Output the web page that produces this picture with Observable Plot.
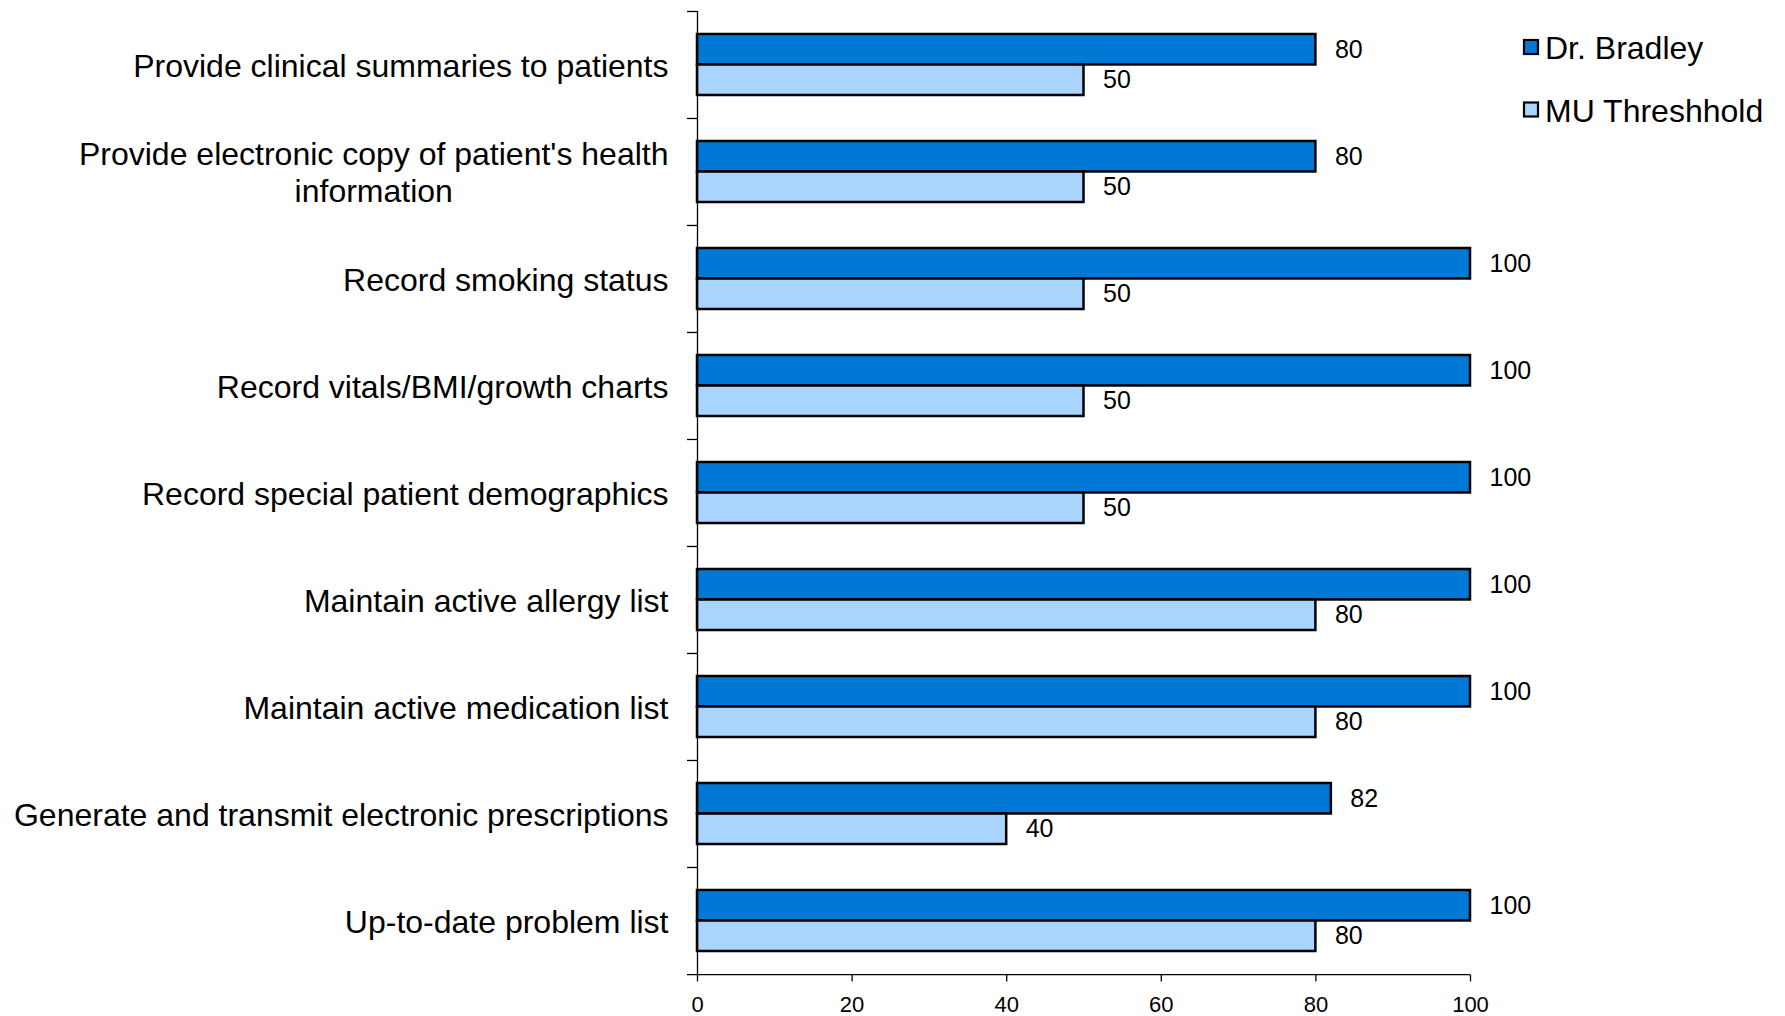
<!DOCTYPE html>
<html>
<head>
<meta charset="utf-8">
<script src="https://cdn.jsdelivr.net/npm/d3@7"></script>
<script src="https://cdn.jsdelivr.net/npm/@observablehq/plot@0.6"></script>
<style>
  html, body { margin: 0; padding: 0; background: #fff; }
  #chart { width: 1785px; height: 1016px; }
  #chart svg { display: block; }
</style>
</head>
<body>
<div id="chart"></div>
<script>
// Meaningful Use measures, top to bottom
const categories = [
  "Provide clinical summaries to patients",
  "Provide electronic copy of patient's health\ninformation",
  "Record smoking status",
  "Record vitals/BMI/growth charts",
  "Record special patient demographics",
  "Maintain active allergy list",
  "Maintain active medication list",
  "Generate and transmit electronic prescriptions",
  "Up-to-date problem list"
];
const series = ["Dr. Bradley", "MU Threshhold"];
const drBradley = [80, 80, 100, 100, 100, 100, 100, 82, 100];
const muThreshhold = [50, 50, 50, 50, 50, 80, 80, 40, 80];
const xTicks = [0, 20, 40, 60, 80, 100];
const seriesColors = ["#0079d6", "#a9d4fd"];

const rows = categories.flatMap((category, i) => [
  {category, series: series[0], value: drBradley[i]},
  {category, series: series[1], value: muThreshhold[i]}
]);
const darkRows = rows.filter(d => d.series === series[0]);
const lightRows = rows.filter(d => d.series === series[1]);

// Layout
const W = 1785, H = 1016;
const mTop = 11, mBottom = 41.5, mLeft = 697, mRight = 315;
const band = (H - mTop - mBottom) / categories.length;
const gap = 23;                       // space above and below each pair of bars
const barH = (band - 2 * gap) / 2;    // height of a single bar
const font = "'Liberation Sans', Arial, Helvetica, sans-serif";

const svg = Plot.plot({
  width: W,
  height: H,
  marginTop: mTop,
  marginBottom: mBottom,
  marginLeft: mLeft,
  marginRight: mRight,
  style: {fontFamily: font, fontSize: "22px", color: "black", background: "white", overflow: "visible"},
  x: {domain: [0, 100]},
  y: {domain: categories, padding: 0},
  color: {domain: series, range: seriesColors},
  marks: [
    Plot.barX(darkRows, {
      x: "value", y: "category", fill: "series",
      stroke: "black", strokeWidth: 2.5,
      insetTop: gap, insetBottom: gap + barH
    }),
    Plot.barX(lightRows, {
      x: "value", y: "category", fill: "series",
      stroke: "black", strokeWidth: 2.5,
      insetTop: gap + barH, insetBottom: gap
    }),
    Plot.text(darkRows, {
      x: "value", y: "category", text: d => String(d.value),
      dx: 19, dy: -barH / 2, textAnchor: "start", fontSize: 25, fill: "black"
    }),
    Plot.text(lightRows, {
      x: "value", y: "category", text: d => String(d.value),
      dx: 19, dy: barH / 2, textAnchor: "start", fontSize: 25, fill: "black"
    }),
    // value axis line and category separators
    Plot.ruleX([0], {stroke: "black", strokeWidth: 1.3}),
    Plot.ruleY(categories, {y: d => d, x1: 0, x2: 0, insetLeft: -10, dy: -band / 2, stroke: "black", strokeWidth: 1.3}),
    Plot.ruleY(categories.slice(-1), {y: d => d, x1: 0, x2: 100, insetLeft: -10, dy: band / 2, stroke: "black", strokeWidth: 1.3}),
    Plot.axisX({ticks: xTicks, tickSize: 7, tickPadding: 14, fontSize: 22, stroke: "black", strokeWidth: 1.3, label: null}),
    Plot.axisY({tickSize: 0, tickPadding: 29, fontSize: 32, lineHeight: 1.14, fill: "black", label: null})
  ]
});

document.getElementById("chart").append(svg);

// Wrapped category labels are centred under their first line
d3.select(svg).selectAll('g[aria-label="y-axis tick label"] text').each(function () {
  const tspans = this.querySelectorAll("tspan");
  if (tspans.length > 1) {
    const w = tspans[0].getComputedTextLength();
    this.setAttribute("text-anchor", "middle");
    const t = this.getAttribute("transform") || "";
    this.setAttribute("transform", t + ` translate(${-w / 2},0)`);
  }
});

// Legend in the upper right corner
const legend = d3.select(svg).append("g")
  .attr("font-family", font)
  .attr("font-size", 32)
  .attr("text-anchor", "start");
series.forEach((name, i) => {
  const cy = 47 + i * 62.5;
  legend.append("rect")
    .attr("x", 1524).attr("y", cy - 7)
    .attr("width", 14).attr("height", 14)
    .attr("fill", seriesColors[i])
    .attr("stroke", "black").attr("stroke-width", 2.2);
  legend.append("text")
    .attr("x", 1545).attr("y", cy + 1)
    .attr("dominant-baseline", "central")
    .attr("fill", "black")
    .text(name);
});
</script>
</body>
</html>
